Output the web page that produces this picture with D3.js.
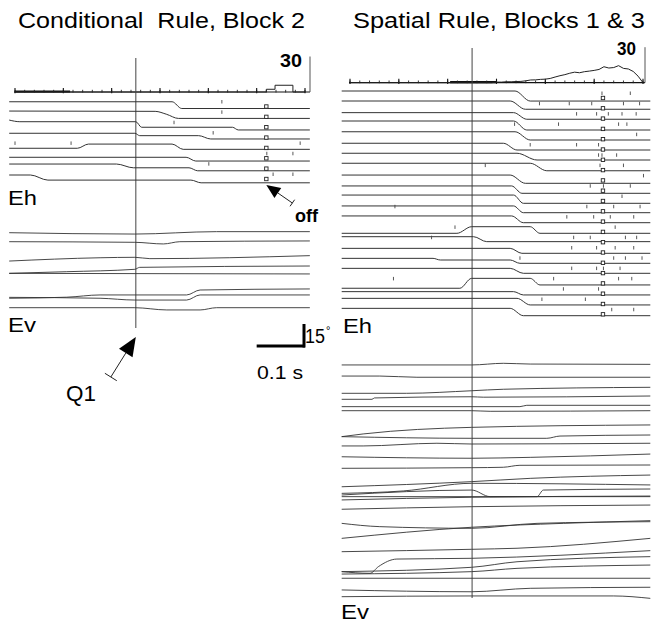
<!DOCTYPE html>
<html><head><meta charset="utf-8">
<script src="https://cdn.jsdelivr.net/npm/d3@7"></script>
<style>
body{margin:0;background:#fff}
svg{display:block}
text{font-family:"Liberation Sans",Arial,Helvetica,sans-serif;fill:#000}
</style>
</head><body>
<svg id="chart" width="659" height="639"></svg>
<script>
// ---- time axis (ms, aligned on the Q1 event) ----
const timeDomain = [-250, 350];
const majorTicks = [-250, -150, -50, 50, 150, 250, 350];
const minorTicks = d3.range(-250, 351, 20);
const rateMax = 30;

// ---- firing-rate histograms (spikes/s) ----
const condHistT = [-250, 270, 288, 325, 350];
const condHistR = [0, 2.3, 5.7, 0, 0];
const spatHistT = [-250, 40, 50, 60, 70, 80, 90, 100, 110, 120, 130, 140, 150, 160, 170, 180, 190, 200,
  210, 220, 230, 240, 250, 260, 270, 280, 290, 300, 310, 320, 330, 340, 350];
const spatHistR = [0, 0, 0.5, 0.5, 0.8, 0.8, 1.0, 1.1, 1.6, 2.3, 2.4, 2.8, 3.0, 3.6, 4.8, 5.9, 6.8, 8.0,
  8.9, 8.4, 9.3, 9.8, 10.4, 11.2, 13.5, 12.4, 12.8, 14.4, 12.1, 11.6, 9.5, 5.5, 0];

// ---- conditional rule, block 2: horizontal eye position per trial [ms, deg] ----
const condEh = [
  [[-262,4.5],[75,4.5],[95,0],[360,0]],
  [[-262,5.2],[40,5.0],[64,3.0],[88,0.3],[360,0.3]],
  [[-262,6.1],[-240,5.0],[0,5.0],[12,1.3],[200,1.3],[212,-0.5],[360,-0.5]],
  [[-262,4.2],[-2,4.2],[8,2.6],[130,2.6],[155,0.4],[360,0.4]],
  [[-262,1.1],[-121,1.1],[-98,3.9],[75,3.9],[98,0.4],[360,0.4]],
  [[-262,2.0],[104,2.0],[124,-0.5],[360,-0.5]],
  [[-262,4.4],[-40,4.4],[-5,1.9],[110,1.9],[128,-0.1],[360,-0.1]],
  [[-262,4.0],[-218,4.0],[-182,0.6],[114,0.6],[135,-1.2],[360,-1.2]]
];
const condSpikes = [[178],[178],[79],[160],[-250,-134,340],[271,325],[151],[284,325]];
const condOff = [270,270,270,270,270,270,270,270];
// vertical eye position per trial [ms, deg]
const condEv = [
  [[-262,58.2],[-2,57.3],[167,58.9],[360,58.9]],
  [[-262,52.2],[-2,51.8],[57,50.7],[91,52.2],[360,52.7]],
  [[-262,39.3],[-74,41.5],[-2,41.8],[29,40.9],[360,42.9]],
  [[-262,31.1],[-143,32.2],[-2,33.8],[8,35.1],[360,36]],
  [[-262,31.1],[360,30.7]],
  [[-262,14.5],[-143,15.2],[-74,16.7],[105,16.7],[133,20],[360,20.7]],
  [[-262,15.1],[-74,14.5],[-2,13.3],[105,13.3],[133,16.7],[360,16.7]],
  [[-262,8.2],[-2,8.2],[64,6.7],[133,6.7],[167,8.2],[360,8.2]]
];

// ---- spatial rule, blocks 1 & 3 ----
const spatEh = [
  [[-267,6.0],[88,6.0],[119,-0.7],[365,-0.7]],
  [[-267,6.2],[78,6.2],[109,0.7],[365,0.7]],
  [[-267,5.3],[85,5.3],[112,0.9],[365,0.9]],
  [[-267,6.6],[85,6.6],[112,0.6],[365,0.6]],
  [[-267,6.3],[88,6.3],[119,0.8],[365,0.8]],
  [[-267,5.5],[64,5.5],[92,1.0],[365,1.0]],
  [[-267,5.7],[92,5.7],[133,1.2],[365,1.2]],
  [[-267,5.9],[119,5.9],[153,0.9],[365,0.9]],
  [[-267,4.9],[78,4.9],[109,-0.6],[365,-0.6]],
  [[-267,4.5],[81,4.5],[102,-0.4],[365,-0.4]],
  [[-267,5.3],[85,5.3],[105,-0.2],[365,-0.2]],
  [[-267,4.9],[85,4.9],[105,0.4],[365,0.4]],
  [[-267,5.1],[81,5.1],[105,0.6],[365,0.6]],
  [[-267,0.4],[-31,0.4],[-1,4.8],[119,4.8],[139,0.4],[365,0.4]],
  [[-267,5.0],[3,5.0],[30,1.7],[365,1.7]],
  [[-267,4.1],[78,4.1],[102,0.8],[365,0.8]],
  [[-267,4.3],[-80,4.3],[-65,3.2],[78,3.2],[98,1.0],[365,1.0]],
  [[-267,4.5],[78,4.5],[105,1.2],[365,1.2]],
  [[-267,-1.9],[-25,-1.9],[-1,4.7],[119,4.7],[139,0.3],[365,0.3]],
  [[-267,2.7],[85,2.7],[105,0.5],[365,0.5]],
  [[-267,5.1],[92,5.1],[119,0.7],[365,0.7]],
  [[-267,5.3],[78,5.3],[105,0.4],[365,0.4]]
];
const spatSpikes = [
  [266,324],[138,199,245,310,343],[214,255,279,307,336],[87,177,300,317],[337],
  [119,214,259],[259,266,296],[27,262,310],[351],[242,269,324],[307],
  [-158,235,290,344],[194,249,283,331],[-35,293],[-83,208,242,314,337],
  [204,255,293,331],[98,290,314,348],[204,255,269,303],[-161,167,300,327],
  [187,259],[143,232],[286,331]
];
const spatOff = [268,268,268,268,268,268,268,268,268,268,268,268,268,268,268,268,268,268,268,268,268,268];
const spatEv = [
  [[-267,156.7],[-1,156.7],[64,157.8],[119,157.3],[365,157.1]],
  [[-267,149.3],[-189,149.3],[-113,148.5],[365,148.5]],
  [[-267,137.8],[-134,137.8],[-1,139.5],[64,140.5],[365,141.8]],
  [[-267,133.8],[-205,133.8],[-200,134.7],[-1,135.5],[23,135.2],[365,136]],
  [[-267,128.9],[98,128.9],[112,129.8],[365,129.8]],
  [[-267,126.2],[-1,126.2],[37,125.8],[365,126.2]],
  [[-267,108.9],[-223,110.7],[-1,115.1],[365,116.7]],
  [[-267,108.9],[-1,107.8],[153,107.8],[180,109.3],[365,110]],
  [[-267,102.7],[-223,102.7],[-72,104.5],[-1,104],[365,104.5]],
  [[-267,95.5],[-1,94.5],[119,95.1],[365,97.3]],
  [[-267,87.8],[-1,88.2],[64,88.5],[98,89.8],[365,90]],
  [[-267,75.5],[-1,78.9],[119,81.1],[365,83.3]],
  [[-267,71.1],[-141,72.7],[-1,77.8],[365,76.7]],
  [[-267,70],[-1,73.3],[37,68.9],[133,68.9],[146,73.3],[365,74]],
  [[-267,68.9],[365,68.9]],
  [[-267,66.7],[-1,68.5],[365,69.3]],
  [[-267,60.5],[-1,62.2],[365,63.3]],
  [[-267,51.1],[-189,48.9],[-1,47.8],[133,51.1],[365,52.2]],
  [[-267,41.1],[-1,48.5],[187,51.1],[365,52.9]],
  [[-267,32.2],[-1,33.8],[92,34.5],[365,41.1]],
  [[-267,18.9],[-209,17.8],[-192,22.2],[-154,27.3],[-1,27.8],[365,32.9]],
  [[-267,18.9],[-1,21.8],[92,25.5],[365,28.9]],
  [[-267,17.3],[-1,18.9],[92,21.1],[365,23.3]],
  [[-267,14.5],[365,14.5]],
  [[-267,6.7],[-1,5.5],[119,7.8],[365,8.5]],
  [[-267,2.2],[-1,2.7],[290,2.7],[365,1.1]]
];

// ---- calibration bars ----
const barDeg = 15, barMs = 100;

const svg = d3.select("#chart");
const degPx = d3.scaleLinear().domain([0, barDeg]).range([0, 22.5]);
const ink = "#333";

function label(txt, x, y, size, len, bold) {
  const t = svg.append("text").attr("x", x).attr("y", y)
    .attr("font-size", size).style("white-space", "pre").text(txt);
  if (bold) t.attr("font-weight", "bold");
  if (len) t.attr("textLength", len).attr("lengthAdjust", "spacingAndGlyphs");
  return t;
}

function drawPanel(p) {
  const g = svg.append("g");
  const x = d3.scaleLinear().domain(timeDomain).range(p.xRange);
  const yRate = d3.scaleLinear().domain([0, rateMax]).range([p.axisY, p.axisY - 35.5]);
  const row = d3.scaleLinear().domain([0, p.eh.length - 1]).range(p.ehRows);
  const yEv = d3.scaleLinear().domain([0, p.evMax]).range([p.evBase, p.evBase - 1.5 * p.evMax]);

  // time axis with tick marks
  g.append("line").attr("x1", x(timeDomain[0]) - 1).attr("x2", p.barX)
    .attr("y1", p.axisY).attr("y2", p.axisY).attr("stroke", "#111").attr("stroke-width", 1.2);
  g.append("line").attr("x1", x(p.dense[0])).attr("x2", x(p.dense[1]))
    .attr("y1", p.axisY - 0.5).attr("y2", p.axisY - 0.5).attr("stroke", "#111").attr("stroke-width", 2.2);
  g.selectAll(".mn").data(minorTicks).join("line")
    .attr("x1", d => x(d)).attr("x2", d => x(d))
    .attr("y1", p.axisY - 2.2).attr("y2", p.axisY + 0.5).attr("stroke", "#222").attr("stroke-width", 0.9);
  g.selectAll(".mj").data(majorTicks).join("line")
    .attr("x1", d => x(d)).attr("x2", d => x(d))
    .attr("y1", p.axisY - 4).attr("y2", p.axisY + 1.2).attr("stroke", "#111").attr("stroke-width", 1.1);

  // histogram
  const hist = p.histT.map((t, i) => [t, p.histR[i]]);
  g.append("path").datum(hist)
    .attr("d", d3.line().x(d => x(d[0])).y(d => yRate(d[1])).curve(p.histCurve))
    .attr("fill", "none").attr("stroke", "#222").attr("stroke-width", 1);

  // rate calibration bar
  g.append("line").attr("x1", p.barX).attr("x2", p.barX)
    .attr("y1", yRate(0)).attr("y2", yRate(rateMax)).attr("stroke", "#555").attr("stroke-width", 1);

  // alignment line
  g.append("line").attr("x1", x(0)).attr("x2", x(0))
    .attr("y1", p.vTop).attr("y2", p.vBottom).attr("stroke", "#444").attr("stroke-width", 1);

  const lineEh = i => d3.line().x(d => x(d[0])).y(d => row(i) - degPx(d[1])).curve(d3.curveMonotoneX);
  p.eh.forEach((tr, i) => {
    g.append("path").datum(tr).attr("d", lineEh(i))
      .attr("fill", "none").attr("stroke", ink).attr("stroke-width", 1);
    g.selectAll(null).data(p.spikes[i]).join("line")
      .attr("x1", d => x(d)).attr("x2", d => x(d))
      .attr("y1", row(i) - 8.5).attr("y2", row(i) - 5)
      .attr("stroke", "#444").attr("stroke-width", 0.9);
    g.append("rect").attr("x", x(p.off[i]) - 1.7).attr("y", row(i) - 3.7)
      .attr("width", 3.4).attr("height", 3.4)
      .attr("fill", "#fff").attr("stroke", "#222").attr("stroke-width", 0.9);
  });

  const lineEv = d3.line().x(d => x(d[0])).y(d => yEv(d[1])).curve(d3.curveMonotoneX);
  p.ev.forEach(tr => {
    g.append("path").datum(tr).attr("d", lineEv)
      .attr("fill", "none").attr("stroke", ink).attr("stroke-width", 0.9);
  });
  return { x, row };
}

const L = drawPanel({
  xRange: [15, 305], axisY: 92, barX: 310, dense: [-250, -136],
  histT: condHistT, histR: condHistR, histCurve: d3.curveStepAfter,
  eh: condEh, spikes: condSpikes, off: condOff, ehRows: [108.5, 181],
  ev: condEv, evMax: 60, evBase: 320, vTop: 58, vBottom: 328
});
const R = drawPanel({
  xRange: [350, 643], axisY: 82.7, barX: 645, dense: [-45, 51],
  histT: spatHistT, histR: spatHistR, histCurve: d3.curveLinear,
  eh: spatEh, spikes: spatSpikes, off: spatOff, ehRows: [100, 316.3],
  ev: spatEv, evMax: 160, evBase: 600, vTop: 48, vBottom: 598
});

// titles and labels
label("Conditional  Rule, Block 2", 18, 28, 22, 287);
label("Spatial Rule, Blocks 1 & 3", 353, 28, 22, 292);
label("30", 280, 67, 18, 22, true);
label("30", 617, 55, 18, 19, true);
label("Eh", 8, 205, 21, 29);
label("Ev", 8, 332, 21, 28);
label("Eh", 343, 333, 21, 29);
label("Ev", 341, 619, 21, 28);
label("off", 295, 222, 18, 23, true);
label("Q1", 66, 401, 22, 30);
label("15", 305, 343, 20, 20);
label("°", 326, 334, 11);
label("0.1 s", 257, 379, 19, 46);

// arrows: tip, tail
function arrow(tip, tail, headLen, headHalf, capHalf) {
  const dx = tip[0] - tail[0], dy = tip[1] - tail[1];
  const len = Math.hypot(dx, dy), ux = dx / len, uy = dy / len;
  const px = -uy, py = ux;
  const bx = tip[0] - ux * headLen, by = tip[1] - uy * headLen;
  svg.append("line").attr("x1", tail[0]).attr("y1", tail[1]).attr("x2", bx).attr("y2", by)
    .attr("stroke", "#222").attr("stroke-width", 1);
  svg.append("line")
    .attr("x1", tail[0] - px * capHalf).attr("y1", tail[1] - py * capHalf)
    .attr("x2", tail[0] + px * capHalf).attr("y2", tail[1] + py * capHalf)
    .attr("stroke", "#222").attr("stroke-width", 1);
  svg.append("path")
    .attr("d", `M${tip[0]},${tip[1]}L${bx + px * headHalf},${by + py * headHalf}L${bx - px * headHalf},${by - py * headHalf}Z`)
    .attr("fill", "#000");
}
arrow([L.x(0), 337], [L.x(0) - 25, 377], 19, 8, 7);
arrow([L.x(condOff[7]), L.row(7) + 4], [L.x(condOff[7]) + 26, L.row(7) + 22], 14, 6, 4);

// calibration bars: 0.1 s and 15 deg
const sbY = 346;
svg.append("line").attr("x1", L.x(250)).attr("x2", L.x(250 + barMs))
  .attr("y1", sbY).attr("y2", sbY).attr("stroke", "#000").attr("stroke-width", 3);
svg.append("line").attr("x1", L.x(250 + barMs) - 1).attr("x2", L.x(250 + barMs) - 1)
  .attr("y1", sbY + 1.5).attr("y2", sbY + 1.5 - degPx(barDeg) - 1).attr("stroke", "#000").attr("stroke-width", 3);
</script>
</body></html>
